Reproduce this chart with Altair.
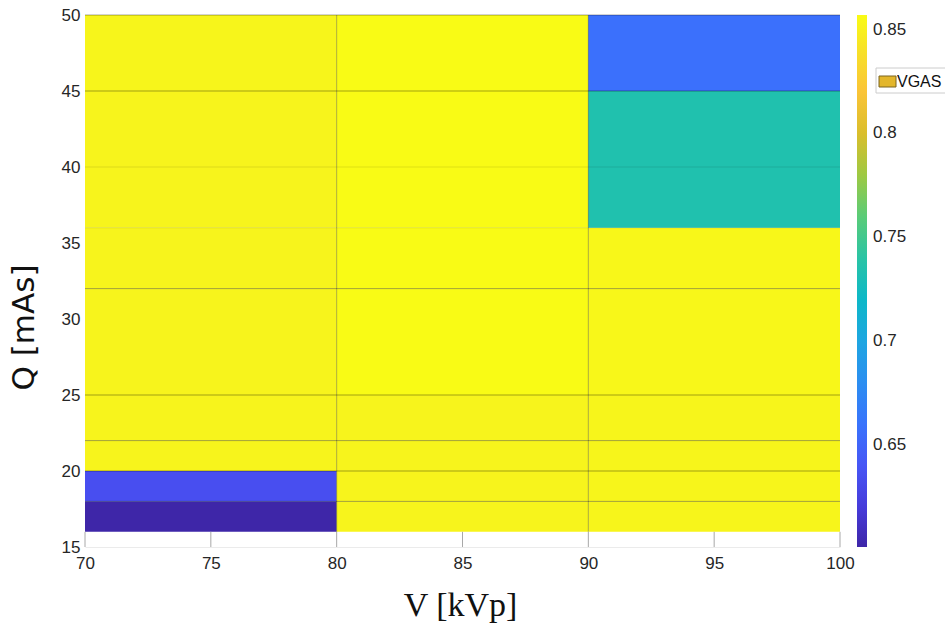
import altair as alt
import pandas as pd

# Grid of the surface (voltage columns x charge rows), flat shaded per cell
V_EDGES = [70, 80, 90, 100]
Q_EDGES = [16, 18, 20, 22, 25, 32, 36, 40, 45, 50]

# VGAS per cell, bottom row first, one list per voltage column
VGAS_V70 = [0.601, 0.634, 0.852, 0.852, 0.852, 0.852, 0.852, 0.852, 0.853]
VGAS_V80 = [0.852, 0.852, 0.852, 0.852, 0.857, 0.857, 0.857, 0.857, 0.857]
VGAS_V90 = [0.853, 0.853, 0.853, 0.853, 0.854, 0.854, 0.735, 0.735, 0.658]

V_TICKS = [70, 75, 80, 85, 90, 95, 100]
Q_TICKS = [15, 20, 25, 30, 35, 40, 45, 50]
CBAR_TICKS = [0.65, 0.7, 0.75, 0.8, 0.85]
SERIES = "VGAS"

# parula colormap (index in a 64-step table, colour)
PARULA = [
    (0, "#3e26a8"), (4, "#4537d5"), (8, "#484df0"), (12, "#4563fd"),
    (16, "#327cfc"), (20, "#2b91ef"), (24, "#20a5e3"), (28, "#08b5d0"),
    (32, "#19bfb6"), (36, "#37c897"), (40, "#64cd6f"), (44, "#9dc943"),
    (48, "#d1bf27"), (52, "#f8ba3d"), (56, "#fccf30"), (60, "#f5e924"),
    (62, "#f7f51b"), (63, "#f9fb15"),
]

columns = [VGAS_V70, VGAS_V80, VGAS_V90]
rows = []
for i, col in enumerate(columns):
    for j, val in enumerate(col):
        rows.append({
            "V0": V_EDGES[i], "V1": V_EDGES[i + 1],
            "Q0": Q_EDGES[j], "Q1": Q_EDGES[j + 1],
            "VGAS": val,
        })
cells_df = pd.DataFrame(rows)

vmin = min(min(c) for c in columns)
vmax = max(max(c) for c in columns)
c_domain = [vmin + k / 63 * (vmax - vmin) for k, _ in PARULA]
c_range = [c for _, c in PARULA]

FONT = "Liberation Sans"
TXT = "#262626"

xscale = alt.Scale(domain=[70, 100], nice=False, zero=False)
yscale = alt.Scale(domain=[15, 50], nice=False, zero=False)

x_axis = alt.Axis(
    values=V_TICKS, format="d", ticks=False, grid=False, labelFlush=False,
    domainColor="#ebebeb", domainWidth=1,
    labelFont=FONT, labelFontSize=17, labelColor=TXT, labelPadding=8,
    title="V [kVp]", titleFont="Liberation Serif", titleFontSize=34,
    titleFontWeight="normal", titleColor="#111111",
    titleX=375, titleY=68, titleBaseline="alphabetic",
)
y_axis = alt.Axis(
    values=Q_TICKS, format="d", ticks=False, grid=False, domain=False,
    labelFlush=False,
    labelFont=FONT, labelFontSize=17, labelColor=TXT, labelPadding=5,
    title="Q [mAs]", titleFont="DejaVu Sans", titleFontSize=31,
    titleFontWeight="normal", titleColor="#111111",
    titleX=-52, titleY=312, titleBaseline="alphabetic", titleAngle=-90,
)

cells = alt.Chart(cells_df).mark_rect(strokeWidth=0).encode(
    x=alt.X("V0:Q", scale=xscale, axis=x_axis),
    x2="V1:Q",
    y=alt.Y("Q0:Q", scale=yscale, axis=y_axis),
    y2="Q1:Q",
    color=alt.Color(
        "VGAS:Q",
        scale=alt.Scale(domain=c_domain, range=c_range, interpolate="rgb"),
        legend=alt.Legend(
            orient="none", legendX=772, legendY=0, direction="vertical",
            gradientLength=532, gradientThickness=10, gradientStrokeWidth=0,
            title=None, values=CBAR_TICKS, format=".2~f",
            labelFont=FONT, labelFontSize=17, labelColor=TXT, labelOffset=6,
        ),
    ),
)

# mesh edges
h_df = pd.DataFrame({"Q": Q_EDGES[1:], "x0": V_EDGES[0], "x1": V_EDGES[-1]})
h_edges = alt.Chart(h_df).mark_rule(color="black", strokeWidth=1).encode(
    x=alt.X("x0:Q", scale=xscale),
    x2="x1:Q",
    y=alt.Y("Q:Q", scale=yscale),
    opacity=alt.condition(
        alt.FieldOneOfPredicate(field="Q", oneOf=[36, 40]),
        alt.value(0.1), alt.value(0.35),
    ),
)
v_df = pd.DataFrame({"V": V_EDGES[1:-1], "q0": Q_EDGES[0], "q1": Q_EDGES[-1]})
v_edges = alt.Chart(v_df).mark_rule(color="black", strokeWidth=1, opacity=0.3).encode(
    x=alt.X("V:Q", scale=xscale),
    y=alt.Y("q0:Q", scale=yscale),
    y2="q1:Q",
)

# inward ticks along the bottom of the box
t_df = pd.DataFrame({"V": V_TICKS, "q0": Q_TICKS[0], "q1": Q_EDGES[0]})
x_ticks = alt.Chart(t_df).mark_rule(color="#a8a8a8", strokeWidth=1).encode(
    x=alt.X("V:Q", scale=xscale),
    y=alt.Y("q0:Q", scale=yscale),
    y2="q1:Q",
)

# series legend box
lg_df = pd.DataFrame({"label": [SERIES]})
lg_box = alt.Chart(lg_df).mark_rect(fill="white", stroke="#cccccc", strokeWidth=1).encode(
    x=alt.value(791), x2=alt.value(880), y=alt.value(53), y2=alt.value(78),
)
lg_swatch = alt.Chart(lg_df).mark_rect(fill="#e3b62b", stroke="#7a6420", strokeWidth=1).encode(
    x=alt.value(794), x2=alt.value(811), y=alt.value(61), y2=alt.value(72),
)
lg_text = alt.Chart(lg_df).mark_text(
    align="left", baseline="middle", font=FONT, fontSize=16, color="#111111"
).encode(x=alt.value(812), y=alt.value(66.5), text="label:N")

chart = alt.layer(
    cells, h_edges, v_edges, x_ticks, lg_box, lg_swatch, lg_text
).properties(
    width=755, height=532,
    autosize=alt.AutoSizeParams(type="none"),
    padding={"left": 85, "top": 15, "right": 105, "bottom": 78},
).configure_view(stroke=None)

chart.save("out.html", embed_options={"renderer": "svg", "actions": False})
